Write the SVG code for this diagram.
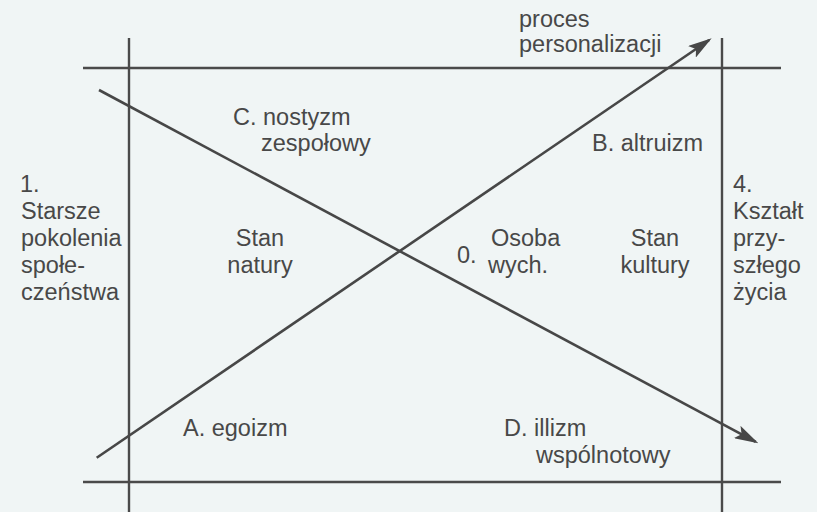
<svg xmlns="http://www.w3.org/2000/svg" width="817" height="512" viewBox="0 0 817 512">
  <style>
    .bg { fill: #f0f5f5; }
    .grid { stroke: #4a4a4a; stroke-width: 2.4; fill: none; }
    .arrow { stroke: #474747; stroke-width: 2.6; fill: none; }
    .lbl { font-family: "Liberation Sans", Arial, Helvetica, sans-serif; font-size: 23.5px; fill: #484848; }
    .mid { text-anchor: middle; }
  </style>
  <defs>
    <marker id="head" viewBox="0 0 24 14" refX="21" refY="7" markerWidth="24" markerHeight="14" markerUnits="userSpaceOnUse" orient="auto">
      <path d="M0,0 L24,7 L0,14 L5,7 Z" fill="#474747"/>
    </marker>
  </defs>
  <rect class="bg" x="0" y="0" width="817" height="512"/>

  <g id="frame" class="grid">
    <line x1="83" y1="68" x2="781" y2="68"/>
    <line x1="83" y1="482" x2="781" y2="482"/>
    <line x1="129" y1="38" x2="129" y2="512"/>
    <line x1="722" y1="38" x2="722" y2="512"/>
  </g>

  <g id="connectors" class="arrow">
    <line id="personalizacja" x1="96.7" y1="457.7" x2="709.2" y2="40" marker-end="url(#head)"/>
    <line id="wspolnota" x1="99" y1="90" x2="755.7" y2="441.9" marker-end="url(#head)"/>
  </g>

  <g id="proces" class="lbl">
    <text x="519" y="27">proces</text>
    <text x="519" y="52">personalizacji</text>
  </g>
  <g id="starsze" class="lbl">
    <text x="20" y="192">1.</text>
    <text x="21" y="219">Starsze</text>
    <text x="21" y="246">pokolenia</text>
    <text x="21" y="273">społe-</text>
    <text x="21" y="300">czeństwa</text>
  </g>
  <g id="ksztalt" class="lbl">
    <text x="733" y="192">4.</text>
    <text x="733" y="219">Kształt</text>
    <text x="733" y="246">przy-</text>
    <text x="733" y="273">szłego</text>
    <text x="733" y="300">życia</text>
  </g>
  <g id="nostyzm" class="lbl">
    <text x="233" y="125">C. nostyzm</text>
    <text x="261" y="151">zespołowy</text>
  </g>
  <g id="altruizm" class="lbl">
    <text x="592" y="151">B. altruizm</text>
  </g>
  <g id="stan-natury" class="lbl mid">
    <text x="260" y="246">Stan</text>
    <text x="260" y="273">natury</text>
  </g>
  <g id="osoba" class="lbl">
    <text x="457" y="263">0.</text>
    <text x="491" y="246">Osoba</text>
    <text x="488" y="273">wych.</text>
  </g>
  <g id="stan-kultury" class="lbl mid">
    <text x="655" y="246">Stan</text>
    <text x="655" y="273">kultury</text>
  </g>
  <g id="egoizm" class="lbl">
    <text x="183" y="436">A. egoizm</text>
  </g>
  <g id="illizm" class="lbl">
    <text x="504" y="436">D. illizm</text>
    <text x="536" y="463">wspólnotowy</text>
  </g>
</svg>
